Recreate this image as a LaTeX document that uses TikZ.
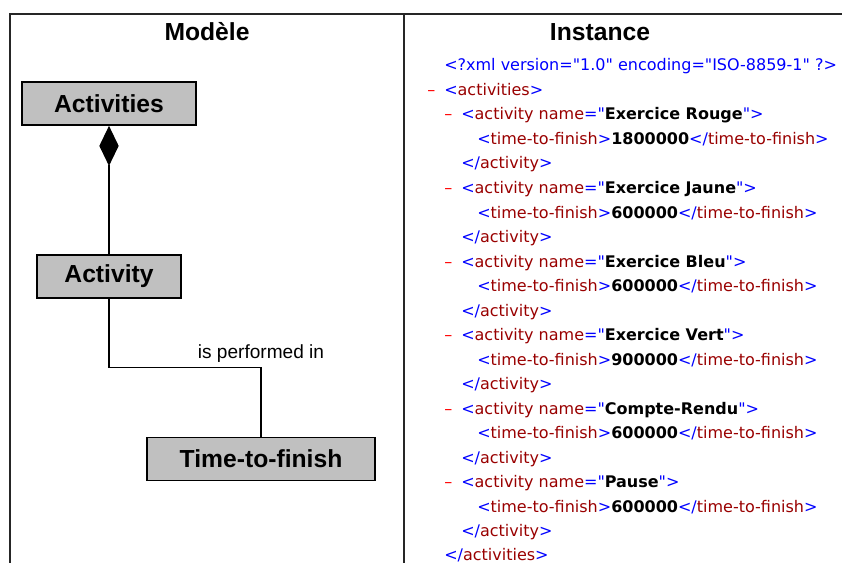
\documentclass[tikz,border=0pt]{standalone}
\usepackage{fontspec}
\setmainfont{Liberation Sans}
\newfontfamily\xmlfont{DejaVu Sans}
\usetikzlibrary{arrows.meta}

\definecolor{boxgray}{RGB}{192,192,192}
\definecolor{xblue}{RGB}{0,0,255}
\definecolor{xred}{RGB}{153,0,0}
\definecolor{xminus}{RGB}{255,0,0}

% pieces of the xml listing
\newcommand\xb[1]{\textcolor{xblue}{#1}}
\newcommand\xr[1]{\textcolor{xred}{#1}}
\newcommand\actopen[1]{\xb{<}\xr{activity name}\xb{="}\textbf{#1}\xb{">}}
\newcommand\ttfline[1]{\xb{<}\xr{time-to-finish}\xb{>}\textbf{#1}\xb{</}\xr{time-to-finish}\xb{>}}
\newcommand\actclose{\xb{</}\xr{activity}\xb{>}}

\begin{document}
\begin{tikzpicture}[x=0.75pt,y=-0.75pt,
  box/.style={draw, line width=1.1pt, fill=boxgray, rectangle, minimum height=32.5pt,
    font=\fontsize{18.5}{22}\selectfont\bfseries},
  title/.style={font=\fontsize{18.5}{22}\selectfont\bfseries},
  xml/.style={anchor=base west, inner sep=0pt, font=\xmlfont\fontsize{12}{14}\selectfont},
  minus/.style={xml, text=xminus},
  frame/.style={line width=1.1pt, black!85}]
\useasboundingbox (0,0) rectangle (842,563);

% frame
\draw[frame] (10,563) -- (10,14) -- (842,14);
\draw[frame] (404,14) -- (404,563);
\node[title] (model) at (207,32) {Modèle};
\node[title] (inst) at (600,32) {Instance};

% model
\node[box, minimum width=130.5pt] (acts) at (109,103.5) {Activities};
\node[box, minimum width=108pt] (act) at (109,276.5) {Activity};
\node[box, minimum width=171pt] (ttf) at (261,459) {Time-to-finish};
\draw[line width=0.8pt, -{Diamond[length=30pt,width=14.5pt]}] (act) -- (acts);
\draw[line width=0.8pt] (act.south) -- ++(0,69) -| node[pos=0.5, above, font=\fontsize{14.3}{17}\selectfont] (perf) {is performed in} (ttf.north);

% instance
\node[xml] (decl) at (444,71) {\xb{<?xml version="1.0" encoding="ISO-8859-1" ?>}};
\node[minus] (m0) at (427,95.5) {–};
\node[xml] (root) at (444,95.5) {\xb{<}\xr{activities}\xb{>}};
\node[minus] (m1) at (444,120) {–};
\node[xml] (a1) at (461,120) {\actopen{Exercice Rouge}};
\node[xml] (t1) at (477,144.5) {\ttfline{1800000}};
\node[xml] (c1) at (461,169) {\actclose};
\node[minus] (m2) at (444,193.5) {–};
\node[xml] (a2) at (461,193.5) {\actopen{Exercice Jaune}};
\node[xml] (t2) at (477,218) {\ttfline{600000}};
\node[xml] (c2) at (461,242.5) {\actclose};
\node[minus] (m3) at (444,267) {–};
\node[xml] (a3) at (461,267) {\actopen{Exercice Bleu}};
\node[xml] (t3) at (477,291.5) {\ttfline{600000}};
\node[xml] (c3) at (461,316) {\actclose};
\node[minus] (m4) at (444,340.5) {–};
\node[xml] (a4) at (461,340.5) {\actopen{Exercice Vert}};
\node[xml] (t4) at (477,365) {\ttfline{900000}};
\node[xml] (c4) at (461,389.5) {\actclose};
\node[minus] (m5) at (444,414) {–};
\node[xml] (a5) at (461,414) {\actopen{Compte-Rendu}};
\node[xml] (t5) at (477,438.5) {\ttfline{600000}};
\node[xml] (c5) at (461,463) {\actclose};
\node[minus] (m6) at (444,487.5) {–};
\node[xml] (a6) at (461,487.5) {\actopen{Pause}};
\node[xml] (t6) at (477,512) {\ttfline{600000}};
\node[xml] (c6) at (461,536.5) {\actclose};
\node[xml] (rootend) at (444,560.5) {\xb{</}\xr{activities}\xb{>}};
\end{tikzpicture}
\end{document}
